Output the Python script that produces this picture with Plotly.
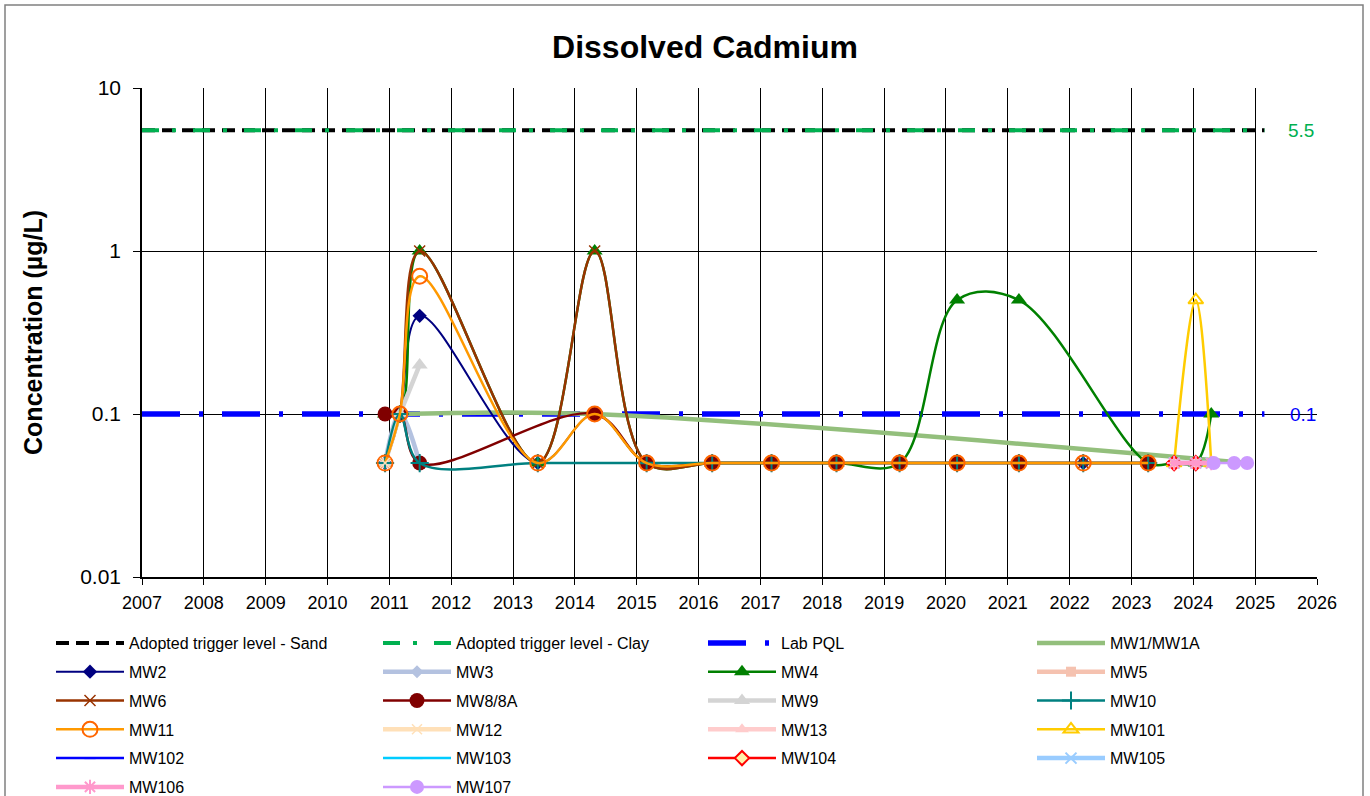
import plotly.graph_objects as go
import math

# ---------------- data ----------------
trigger_x = [2007.0, 2025.15]
sand_y = [5.5, 5.5]
clay_y = [5.5, 5.5]
pql_y = [0.1, 0.1]

mw1_x = [2011.17, 2014.32, 2024.87]
mw1_y = [0.1, 0.1, 0.05]

mw2_x = [2010.93, 2011.17, 2011.49, 2013.40, 2014.32, 2015.16, 2016.22, 2017.18, 2018.23, 2019.25, 2020.18, 2021.18, 2022.22, 2023.27]
mw2_y = [0.05, 0.1, 0.4, 0.05, 0.1, 0.05, 0.05, 0.05, 0.05, 0.05, 0.05, 0.05, 0.05, 0.05]

mw3_x = [2010.93, 2011.17, 2011.49]
mw3_y = [0.05, 0.1, 0.05]

mw4_x = [2010.93, 2011.17, 2011.49, 2013.40, 2014.32, 2015.16, 2016.22, 2017.18, 2018.23, 2019.25, 2020.18, 2021.18, 2023.27, 2023.69, 2024.04, 2024.29]
mw4_y = [0.1, 0.1, 1.0, 0.05, 1.0, 0.05, 0.05, 0.05, 0.05, 0.05, 0.5, 0.5, 0.05, 0.05, 0.05, 0.1]

mw5_x = [2010.93]
mw5_y = [0.05]

mw6_x = [2010.93, 2011.17, 2011.49, 2013.40, 2014.32, 2015.16, 2016.22, 2017.18, 2018.23, 2019.25, 2020.18, 2021.18, 2022.22, 2023.27]
mw6_y = [0.05, 0.1, 1.0, 0.05, 1.0, 0.05, 0.05, 0.05, 0.05, 0.05, 0.05, 0.05, 0.05, 0.05]

mw8_x = [2010.93, 2011.17, 2011.49, 2014.32, 2015.16, 2016.22, 2017.18, 2018.23, 2019.25, 2020.18, 2021.18, 2023.27]
mw8_y = [0.1, 0.1, 0.05, 0.1, 0.05, 0.05, 0.05, 0.05, 0.05, 0.05, 0.05, 0.05]

mw9_x = [2010.93, 2011.17, 2011.49]
mw9_y = [0.05, 0.1, 0.2]

mw10_x = [2010.93, 2011.17, 2011.49, 2013.40, 2015.16, 2016.22, 2017.18, 2018.23, 2019.25, 2020.18, 2021.18, 2022.22, 2023.27]
mw10_y = [0.05, 0.1, 0.05, 0.05, 0.05, 0.05, 0.05, 0.05, 0.05, 0.05, 0.05, 0.05, 0.05]

mw11_x = [2010.93, 2011.17, 2011.49, 2013.40, 2014.32, 2015.16, 2016.22, 2017.18, 2018.23, 2019.25, 2020.18, 2021.18, 2022.22, 2023.27]
mw11_y = [0.05, 0.1, 0.7, 0.05, 0.1, 0.05, 0.05, 0.05, 0.05, 0.05, 0.05, 0.05, 0.05, 0.05]

mw12_x = [2010.93]
mw12_y = [0.05]

mw13_x = [2023.69, 2024.04, 2024.29]
mw13_y = [0.05, 0.05, 0.05]

mw101_x = [2023.69, 2024.04, 2024.29]
mw101_y = [0.05, 0.5, 0.05]

mw102_x = [2023.69, 2024.04, 2024.29]
mw102_y = [0.05, 0.05, 0.05]

mw103_x = [2023.69, 2024.04, 2024.29]
mw103_y = [0.05, 0.05, 0.05]

mw104_x = [2023.69, 2024.04]
mw104_y = [0.05, 0.05]

mw105_x = [2023.69, 2024.04, 2024.29]
mw105_y = [0.05, 0.05, 0.05]

mw106_x = [2023.69, 2024.04, 2024.29]
mw106_y = [0.05, 0.05, 0.05]

mw107_x = [2024.33, 2024.66, 2024.87]
mw107_y = [0.05, 0.05, 0.05]

year_ticks = list(range(2007, 2027))
y_ticks = [0.01, 0.1, 1, 10]
y_tick_text = ["0.01", "0.1", "1", "10"]

FONT = "Arial, 'Liberation Sans', sans-serif"

# legend columns (Excel legend is row-major, 4 columns)
col_of = {}
order = ["Adopted trigger level - Sand", "Adopted trigger level - Clay", "Lab PQL", "MW1/MW1A",
         "MW2", "MW3", "MW4", "MW5",
         "MW6", "MW8/8A", "MW9", "MW10",
         "MW11", "MW12", "MW13", "MW101",
         "MW102", "MW103", "MW104", "MW105",
         "MW106", "MW107"]
for i, n in enumerate(order):
    col_of[n] = ["legend", "legend2", "legend3", "legend4"][i % 4]

fig = go.Figure()


def add(name, x, y, color, width, shape="spline", symbol=None, msize=10, mcolor=None,
        mline=None, mlinew=0, dash=None):
    line = dict(color=color, width=width, shape=shape)
    if dash:
        line["dash"] = dash
    kw = {}
    if symbol:
        kw["marker"] = dict(symbol=symbol, size=msize, color=mcolor or color,
                            line=dict(color=mline or (mcolor or color), width=mlinew))
        m = "lines+markers"
    else:
        m = "lines"
    fig.add_trace(go.Scatter(x=x, y=y, name=name, mode=m, line=line,
                             legend=col_of[name], legendgroup=name, **kw))


add("Adopted trigger level - Sand", trigger_x, sand_y, "#000000", 4, shape="linear", dash="13px,7px")
add("Adopted trigger level - Clay", trigger_x, clay_y, "#00B050", 4, shape="linear", dash="17px,13px,4px,17px")
add("Lab PQL", trigger_x, pql_y, "#0000FF", 5.5, shape="linear", dash="38px,19px,4px,19px")
add("MW1/MW1A", mw1_x, mw1_y, "#93BF7C", 4.5)
add("MW2", mw2_x, mw2_y, "#000080", 2, symbol="diamond", msize=11)
add("MW3", mw3_x, mw3_y, "#B4C2E0", 4.5, symbol="diamond", msize=10)
add("MW4", mw4_x, mw4_y, "#008000", 2.5, symbol="triangle-up", msize=14)
add("MW5", mw5_x, mw5_y, "#F5C2B0", 4.5, symbol="square", msize=10)
add("MW6", mw6_x, mw6_y, "#993300", 2.5, symbol="x-thin", msize=11, mlinew=1.5)
add("MW8/8A", mw8_x, mw8_y, "#800000", 2.5, symbol="circle", msize=15)
add("MW9", mw9_x, mw9_y, "#D4D4D4", 4.5, shape="linear", symbol="triangle-up", msize=14)
add("MW10", mw10_x, mw10_y, "#008080", 2.5, symbol="cross-thin", msize=13, mlinew=2)
add("MW11", mw11_x, mw11_y, "#FF9900", 2.5, symbol="circle-open", msize=15, mcolor="#FF6600", mlinew=2)
add("MW12", mw12_x, mw12_y, "#FFE0B8", 4.5, symbol="x-thin", msize=10, mlinew=1.5)
add("MW13", mw13_x, mw13_y, "#FFCCCC", 4.5, symbol="triangle-up", msize=12)
add("MW101", mw101_x, mw101_y, "#FFCC00", 2.5, symbol="triangle-up-open", msize=13, mlinew=2)
add("MW102", mw102_x, mw102_y, "#0000FF", 2.5, symbol="line-ew", msize=8, mlinew=2)
add("MW103", mw103_x, mw103_y, "#00CCFF", 2.5, symbol="line-ew", msize=8, mlinew=2)
add("MW104", mw104_x, mw104_y, "#FF0000", 2.5, symbol="diamond", msize=11, mcolor="#FFF2AA", mline="#FF0000", mlinew=2)
add("MW105", mw105_x, mw105_y, "#99CCFF", 4.5, symbol="x-thin", msize=11, mlinew=2)
add("MW106", mw106_x, mw106_y, "#FF99CC", 4.5, symbol="asterisk-open", msize=12, mlinew=2)
add("MW107", mw107_x, mw107_y, "#CC99FF", 2.5, symbol="circle", msize=14)

# end-of-line value labels
fig.add_annotation(x=trigger_x[-1], y=math.log10(clay_y[-1]), xref="x", yref="y", text=str(clay_y[-1]),
                   showarrow=False, xanchor="left", xshift=22, font=dict(family=FONT, size=19, color="#00B050"))
fig.add_annotation(x=trigger_x[-1], y=math.log10(pql_y[-1]), xref="x", yref="y", text=str(pql_y[-1]),
                   showarrow=False, xanchor="left", xshift=24, font=dict(family=FONT, size=19, color="#0000FF"))

# chart-area border (Excel chart frame)
L, R, T, B = 142, 1317, 88, 577
pw, ph = R - L, B - T
fig.add_shape(type="rect", xref="paper", yref="paper",
              x0=(5 - L) / pw, x1=(1363 - L) / pw, y0=(B - 805) / ph, y1=(B - 5) / ph,
              line=dict(color="#808080", width=1.5), fillcolor="rgba(0,0,0,0)", layer="below")

leg_common = dict(orientation="v", xanchor="left", yanchor="top", bgcolor="rgba(0,0,0,0)",
                  font=dict(family=FONT, size=16, color="#000000"), tracegroupgap=5,
                  itemwidth=68, traceorder="grouped")
leg_y = (B - 626) / ph
fig.update_layout(
    width=1370, height=796,
    margin=dict(l=L, r=1370 - R, t=T, b=796 - B, autoexpand=False),
    paper_bgcolor="white", plot_bgcolor="white",
    title=dict(text="<b>Dissolved Cadmium</b>", x=705 / 1370, xanchor="center",
               y=1 - 47 / 796, yanchor="middle", font=dict(family=FONT, size=32, color="#000000")),
    font=dict(family=FONT, color="#000000"),
    legend=dict(x=(51 - L) / pw, y=leg_y, **leg_common),
    legend2=dict(x=(378 - L) / pw, y=leg_y, **leg_common),
    legend3=dict(x=(703 - L) / pw, y=leg_y, **leg_common),
    legend4=dict(x=(1032 - L) / pw, y=leg_y, **leg_common),
    xaxis=dict(range=[2007, 2026], tickvals=year_ticks, ticktext=[str(v) for v in year_ticks],
               showgrid=True, gridcolor="#000000", gridwidth=1, zeroline=False,
               showline=True, linecolor="#000000", linewidth=1.5, mirror=False,
               ticks="outside", ticklen=6, tickcolor="#000000", ticklabelstandoff=3,
               tickfont=dict(family=FONT, size=18, color="#000000")),
    yaxis=dict(type="log", range=[-2, 1], tickvals=y_ticks, ticktext=y_tick_text,
               showgrid=True, gridcolor="#000000", gridwidth=1, zeroline=False,
               showline=True, linecolor="#000000", linewidth=1.5,
               ticks="outside", ticklen=7, tickcolor="#000000", ticklabelstandoff=8,
               tickfont=dict(family=FONT, size=21, color="#000000"),
               title=dict(text="<b>Concentration (µg/L)</b>", standoff=30,
                          font=dict(family=FONT, size=25, color="#000000"))),
)

fig.write_html("out.html", config={"displayModeBar": False},
               post_script="document.body.style.margin='0';")
